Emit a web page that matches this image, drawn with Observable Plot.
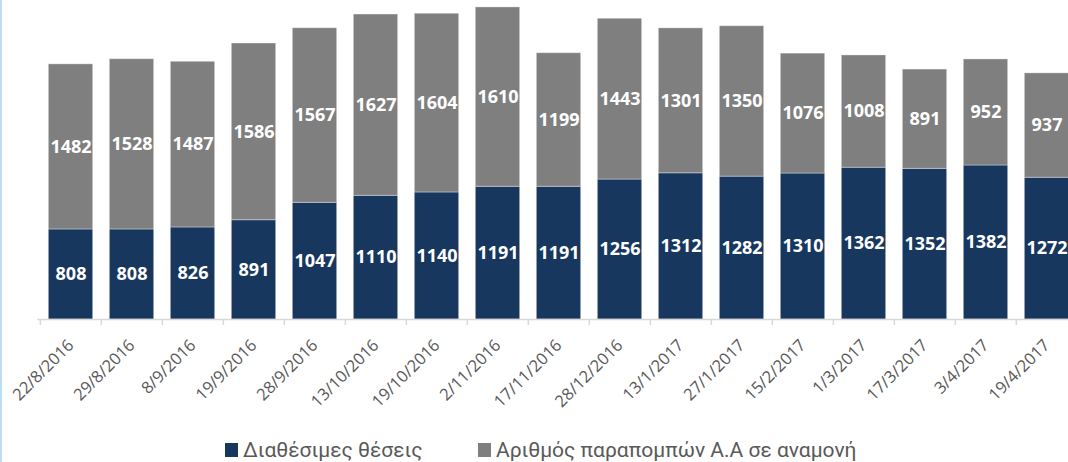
<!DOCTYPE html>
<html>
<head>
<meta charset="utf-8">
<script src="https://cdn.jsdelivr.net/npm/d3@7"></script>
<script src="https://cdn.jsdelivr.net/npm/@observablehq/plot@0.6"></script>
<style>
  html, body { margin: 0; padding: 0; background: #fff; overflow: hidden; }
  #wrap { position: relative; width: 1068px; height: 462px; overflow: hidden; }
  #edge { position: absolute; left: 0; top: 0; width: 2px; height: 462px; background: #b9def5; }
  #chart { position: absolute; left: 0; top: 0; }
  #chart svg { max-width: none !important; }
  .leg { position: absolute; top: 436px; height: 28px; font-family: Roboto, sans-serif; font-size: 21px; color: #595959; display: flex; align-items: center; white-space: nowrap; }
  .sw { width: 13px; height: 14px; margin-right: 5px; display: inline-block; }
</style>
</head>
<body>
<div id="wrap">
  <div id="chart"></div>
  <div id="edge"></div>
  <div id="legend"></div>
</div>
<script>
const dates = ["22/8/2016","29/8/2016","8/9/2016","19/9/2016","28/9/2016","13/10/2016","19/10/2016","2/11/2016","17/11/2016","28/12/2016","13/1/2017","27/1/2017","15/2/2017","1/3/2017","17/3/2017","3/4/2017","19/4/2017"];
const available = [808,808,826,891,1047,1110,1140,1191,1191,1256,1312,1282,1310,1362,1352,1382,1272];
const waiting = [1482,1528,1487,1586,1567,1627,1604,1610,1199,1443,1301,1350,1076,1008,891,952,937];
const seriesNames = ["Διαθέσιμες θέσεις", "Αριθμός παραπομπών Α.Α σε αναμονή"];
const seriesColors = ["#17375e", "#7f7f7f"];

const rows = [];
dates.forEach((d, i) => {
  rows.push({date: d, series: seriesNames[0], value: available[i]});
  rows.push({date: d, series: seriesNames[1], value: waiting[i]});
});

const W = 1080, H = 425, ML = 37, MR = 1, MB = 106;
const step = (W - ML - MR) / dates.length;

const chart = Plot.plot({
  width: W,
  height: H,
  marginLeft: ML,
  marginRight: MR,
  marginTop: 0,
  marginBottom: MB,
  style: {fontFamily: "Open Sans, sans-serif", background: "transparent", maxWidth: "none"},
  x: {domain: dates, padding: 0, label: null},
  y: {domain: [0, 2863], axis: null},
  color: {domain: seriesNames, range: seriesColors},
  marks: [
    Plot.barY(rows, Plot.stackY({
      x: "date", y: "value", fill: "series", z: "series",
      insetLeft: step * 0.136, insetRight: step * 0.136,
      stroke: "#ffffff", strokeOpacity: 0.35, strokeWidth: 1
    })),
    Plot.ruleY([0], {stroke: "#d9d9d9", strokeWidth: 1.5}),
    Plot.axisX({tickSize: 6, stroke: "#d9d9d9", strokeWidth: 1.5, text: null, dx: -step / 2}),
    Plot.axisX({tickSize: 0, tickRotate: -45, tickPadding: 23, fontSize: 16.5, fill: "#595959", label: null}),
    Plot.text(rows, Plot.stackY({
      x: "date", y: "value", z: "series", text: d => String(d.value),
      fill: "white", fontSize: 18, fontWeight: "bold"
    }))
  ]
});
chart.style.maxWidth = "none";
document.getElementById("chart").appendChild(chart);

const legend = document.getElementById("legend");
const legLeft = [225, 478];
seriesNames.forEach((name, i) => {
  const item = document.createElement("div");
  item.className = "leg";
  item.style.left = legLeft[i] + "px";
  const sw = document.createElement("span");
  sw.className = "sw";
  sw.style.background = seriesColors[i];
  item.appendChild(sw);
  item.appendChild(document.createTextNode(name));
  legend.appendChild(item);
});
</script>
</body>
</html>
